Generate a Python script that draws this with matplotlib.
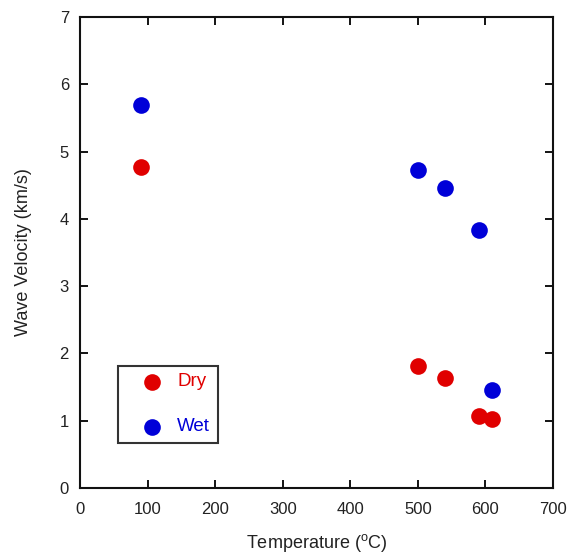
import matplotlib.pyplot as plt
from matplotlib.patches import Rectangle

plt.rcParams['font.family'] = ['Liberation Sans', 'DejaVu Sans']

# data
temp_dry = [90, 500, 540, 590, 610]
vel_dry = [4.77, 1.82, 1.63, 1.07, 1.02]
temp_wet = [90, 500, 540, 590, 610]
vel_wet = [5.69, 4.72, 4.46, 3.84, 1.45]

text_col = '#222222'
fig = plt.figure(figsize=(5.69, 5.56), dpi=100)
ax = fig.add_axes([0.1406, 0.1223, 0.8313, 0.8471])

ax.plot(temp_dry, vel_dry, 'o', color='#e00000', markersize=12, mec='none', zorder=3)
ax.plot(temp_wet, vel_wet, 'o', color='#0000d8', markersize=12, mec='none', zorder=3)

ax.set_xlim(0, 700)
ax.set_ylim(0, 7)
ax.set_xticks(range(0, 701, 100))
ax.set_yticks(range(0, 8))

for s in ax.spines.values():
    s.set_linewidth(1.5)
    s.set_color('#111111')

ax.tick_params(direction='in', length=6, width=1.3, top=True, right=True,
               labelsize=12, labelcolor=text_col)
ax.tick_params('x', pad=10)
ax.tick_params('y', pad=8)

ax.set_xlabel('Temperature ($^{\\mathregular{o}}$C)', size=13, labelpad=11,
              color=text_col)
ax.set_ylabel('Wave Velocity (km/s)', size=13, labelpad=20, color=text_col)

# legend box, drawn by hand as in the reference
ax.add_patch(Rectangle((56, 0.67), 148, 1.15, transform=ax.transData,
                       fill=False, lw=1.5, ec='#333333', zorder=2))
ax.plot([106], [1.58], 'o', color='#e00000', markersize=12, mec='none')
ax.plot([106], [0.91], 'o', color='#0000d8', markersize=12, mec='none')
ax.text(144, 1.58, 'Dry', color='#e00000', size=13.5, va='center')
ax.text(144, 0.91, 'Wet', color='#0000d8', size=13.5, va='center')

fig.savefig('out.png')
plt.close(fig)
